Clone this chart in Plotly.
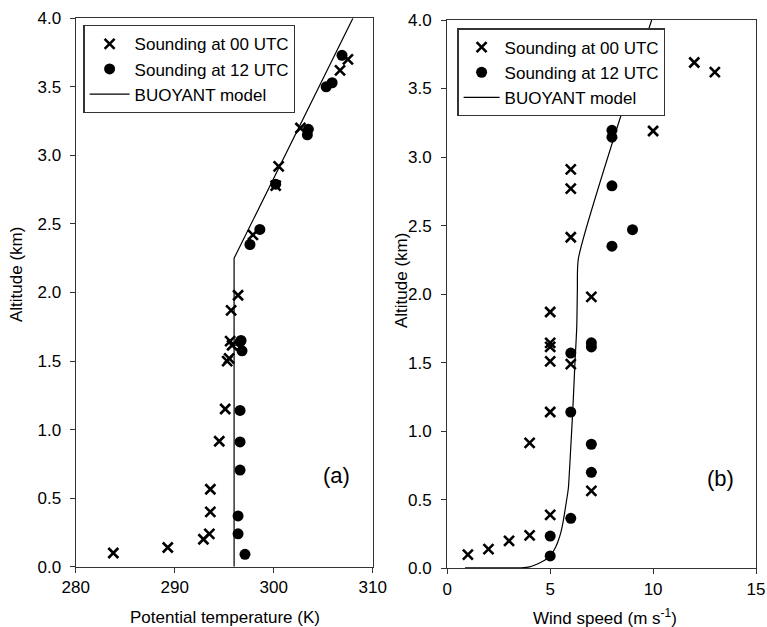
import plotly.graph_objects as go

# ---- (a) potential temperature profiles ----
theta_00 = [283.8, 289.3, 292.9, 293.5, 293.6, 293.6, 294.5, 295.1, 295.3, 295.5,
            295.8, 295.6, 295.7, 296.4, 297.9, 300.2, 300.5, 302.7, 306.7, 307.5]
alt_theta_00 = [0.10, 0.14, 0.20, 0.24, 0.40, 0.565, 0.915, 1.15, 1.50, 1.52,
                1.615, 1.645, 1.87, 1.98, 2.42, 2.78, 2.92, 3.20, 3.62, 3.70]

theta_12 = [297.1, 296.4, 296.4, 296.6, 296.6, 296.6, 296.8, 296.6, 296.7,
            297.6, 298.6, 300.2, 303.4, 303.5, 305.3, 305.9, 306.9]
alt_theta_12 = [0.09, 0.24, 0.37, 0.705, 0.91, 1.14, 1.575, 1.64, 1.65,
                2.35, 2.46, 2.79, 3.15, 3.19, 3.50, 3.53, 3.73]

theta_model = [296.0, 296.0, 308.0]
alt_theta_model = [0.0, 2.25, 4.0]

# ---- (b) wind speed profiles ----
wind_00 = [1, 2, 3, 4, 5, 7, 4, 5, 5, 6, 5, 5, 5, 7, 6, 6, 6, 10, 12, 13]
alt_wind_00 = [0.10, 0.14, 0.20, 0.24, 0.39, 0.565, 0.915, 1.14, 1.51, 1.49,
               1.615, 1.645, 1.87, 1.98, 2.415, 2.77, 2.91, 3.19, 3.69, 3.62]

wind_12 = [5, 5, 6, 7, 7, 6, 6, 7, 7, 8, 9, 8, 8, 8]
alt_wind_12 = [0.09, 0.235, 0.365, 0.70, 0.905, 1.14, 1.57, 1.615, 1.645,
               2.35, 2.47, 2.79, 3.145, 3.195]

wind_model = [0.86, 3.6, 4.0, 4.26, 4.5, 4.75, 5.07, 5.25, 5.4, 5.53, 5.64, 5.8,
              5.88, 6.0, 6.09, 6.2, 6.29, 6.32, 6.37, 9.93]
alt_wind_model = [0.004, 0.004, 0.01, 0.024, 0.04, 0.06, 0.107, 0.15, 0.205, 0.27,
                  0.35, 0.5, 0.58, 0.885, 1.13, 1.49, 1.76, 2.03, 2.26, 4.0]

theta_ticks = [280, 290, 300, 310]
wind_ticks = [0, 5, 10, 15]
alt_ticks = [0.0, 0.5, 1.0, 1.5, 2.0, 2.5, 3.0, 3.5, 4.0]

NAME_00 = "Sounding at 00 UTC"
NAME_12 = "Sounding at 12 UTC"
NAME_MODEL = "BUOYANT model"

W, H = 767, 627
FONT = "Liberation Sans, Arial, sans-serif"
AX = "#333333"

x_marker = dict(symbol="x-thin", size=10, color="black",
                line=dict(width=2.6, color="black"))
dot_marker = dict(symbol="circle", size=11, color="black", line=dict(width=0))

fig = go.Figure()

fig.add_trace(go.Scatter(x=theta_00, y=alt_theta_00, mode="markers", name=NAME_00,
                         marker=x_marker, xaxis="x", yaxis="y", legend="legend"))
fig.add_trace(go.Scatter(x=theta_12, y=alt_theta_12, mode="markers", name=NAME_12,
                         marker=dot_marker, xaxis="x", yaxis="y", legend="legend"))
fig.add_trace(go.Scatter(x=theta_model, y=alt_theta_model, mode="lines", name=NAME_MODEL,
                         line=dict(color="black", width=1.2), xaxis="x", yaxis="y",
                         legend="legend"))

fig.add_trace(go.Scatter(x=wind_00, y=alt_wind_00, mode="markers", name=NAME_00,
                         marker=x_marker, xaxis="x2", yaxis="y2", legend="legend2"))
fig.add_trace(go.Scatter(x=wind_12, y=alt_wind_12, mode="markers", name=NAME_12,
                         marker=dot_marker, xaxis="x2", yaxis="y2", legend="legend2"))
fig.add_trace(go.Scatter(x=wind_model, y=alt_wind_model, mode="lines", name=NAME_MODEL,
                         line=dict(color="black", width=1.2, shape="spline", smoothing=0.6),
                         xaxis="x2", yaxis="y2", legend="legend2"))

common_axis = dict(
    showline=True, linecolor=AX, linewidth=1.3, mirror=True,
    ticks="outside", ticklen=5, tickwidth=1.3, tickcolor=AX,
    showgrid=False, zeroline=False, automargin=False,
    tickfont=dict(family=FONT, size=17, color="black"),
)

def px_x(p):
    return p / W

def px_y(p):
    return 1 - p / H

fig.update_layout(
    width=W, height=H, template="none",
    margin=dict(l=0, r=0, t=0, b=0),
    paper_bgcolor="white", plot_bgcolor="white",
    font=dict(family=FONT, size=17, color="black"),
    xaxis=dict(common_axis, domain=[px_x(75.7), px_x(372.7)], range=[280, 310],
               tickvals=theta_ticks, anchor="y"),
    yaxis=dict(common_axis, domain=[px_y(566.7), px_y(18.3)], range=[0, 4],
               tickvals=alt_ticks, tickformat=".1f", anchor="x", ticklabelstandoff=5),
    xaxis2=dict(common_axis, domain=[px_x(447.3), px_x(756)], range=[0, 15],
                tickvals=wind_ticks, anchor="y2"),
    yaxis2=dict(common_axis, domain=[px_y(568.3), px_y(20)], range=[0, 4],
                tickvals=alt_ticks, tickformat=".1f", anchor="x2", ticklabelstandoff=6),
    legend=dict(x=px_x(83.3), y=px_y(25), xanchor="left", yanchor="top",
                bgcolor="white", bordercolor=AX, borderwidth=1.3,
                font=dict(family=FONT, size=17, color="black"),
                itemwidth=40, tracegroupgap=0, entrywidth=165, entrywidthmode="pixels"),
    legend2=dict(x=px_x(457.3), y=px_y(28.3), xanchor="left", yanchor="top",
                 bgcolor="white", bordercolor=AX, borderwidth=1.3,
                 font=dict(family=FONT, size=17, color="black"),
                 itemwidth=36, tracegroupgap=0),
    showlegend=True,
)

labels = [
    dict(text="Altitude (km)", x=px_x(16), y=px_y(275), textangle=-90),
    dict(text="Altitude (km)", x=px_x(401), y=px_y(281), textangle=-90),
    dict(text="Potential temperature (K)", x=px_x(225), y=px_y(617)),
    dict(text="Wind speed (m s<sup>-1</sup>)", x=px_x(605), y=px_y(617)),
    dict(text="(a)", x=px_x(336), y=px_y(475), font=dict(family=FONT, size=22, color="black")),
    dict(text="(b)", x=px_x(720), y=px_y(478), font=dict(family=FONT, size=22, color="black")),
]
for lab in labels:
    fig.add_annotation(xref="paper", yref="paper", showarrow=False,
                       xanchor="center", yanchor="middle",
                       font=lab.pop("font", dict(family=FONT, size=17, color="black")),
                       **lab)

fig.write_html("out.html")
